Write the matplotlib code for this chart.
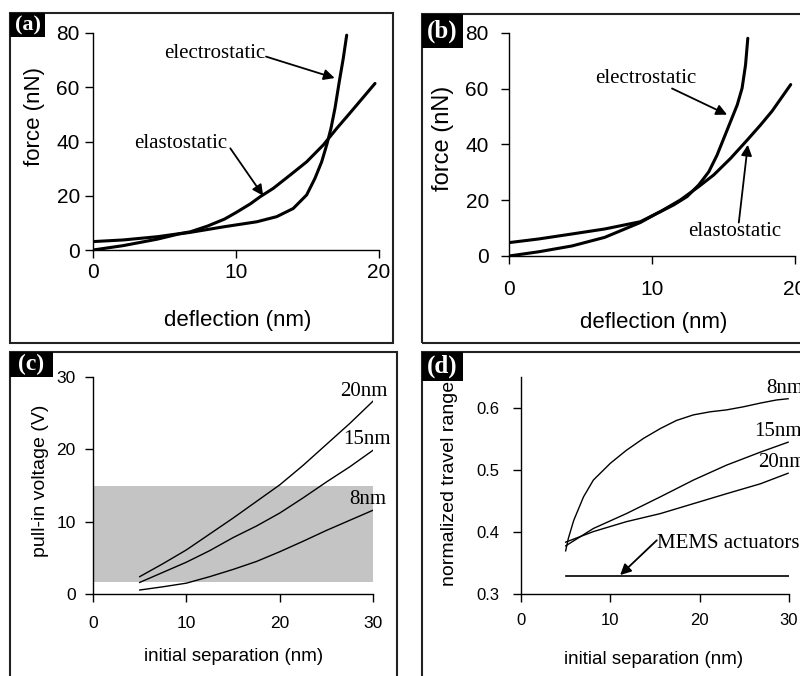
import matplotlib
matplotlib.use("Agg")
import matplotlib.pyplot as plt
from matplotlib.patches import Rectangle

SANS = "Liberation Sans"
SERIF = "Liberation Serif"
W, H = 800, 676

# --- (a) force vs deflection ---
a_elec_x = [0, 2.1, 4.5, 6.0, 6.8, 9.2, 11.45, 12.85, 14.0, 14.94, 15.52, 15.99,
            16.34, 16.64, 16.92, 17.22, 17.5, 17.74]
a_elec_y = [0, 1.6, 4.0, 5.9, 6.5, 8.6, 10.4, 12.3, 15.3, 20.3, 26.4, 32.5,
            38.7, 44.8, 52.2, 62.0, 70.6, 79.2]
a_elas_x = [0, 2.1, 4.5, 6.0, 6.8, 8.0, 9.2, 10.0, 11.0, 11.68, 12.6, 13.78, 14.94,
            16.1, 17.04, 17.97, 19.72]
a_elas_y = [3.1, 3.7, 4.9, 6.0, 6.7, 8.8, 11.4, 13.8, 17.0, 19.6, 22.7, 27.6, 32.5,
            38.7, 44.8, 50.5, 61.4]

# --- (b) force vs deflection ---
b_elec_x = [0, 2.06, 4.4, 6.7, 9.18, 10.35, 11.51, 12.45, 13.27, 13.97, 14.55,
            15.02, 15.49, 15.96, 16.3, 16.54, 16.7]
b_elec_y = [0, 1.5, 3.6, 6.7, 12.0, 15.3, 18.3, 21.3, 25.5, 30.2, 36.2,
            42.2, 48.2, 54.2, 60.2, 68.5, 78.1]
b_elas_x = [0, 2.06, 4.4, 6.7, 9.18, 10.58, 11.98, 13.27, 14.32, 15.49, 16.66,
            17.59, 18.4, 19.7]
b_elas_y = [4.8, 6.1, 7.9, 9.7, 12.3, 15.9, 20.1, 24.9, 29.1, 35.0, 41.6,
            47.0, 52.0, 61.5]

# --- (c) pull-in voltage vs initial separation ---
c_x = [5, 7.5, 10, 12.5, 15, 17.5, 20, 22.5, 25, 27.5, 30]
c_20nm = [2.4, 4.2, 6.1, 8.3, 10.5, 12.8, 15.1, 17.8, 20.7, 23.6, 26.7]
c_15nm = [1.6, 3.0, 4.4, 6.0, 7.8, 9.4, 11.2, 13.3, 15.5, 17.6, 19.9]
c_8nm = [0.55, 1.0, 1.5, 2.4, 3.4, 4.5, 5.85, 7.3, 8.8, 10.2, 11.6]
c_band = (1.7, 15.0)  # shaded voltage window

# --- (d) normalized travel range vs initial separation ---
d_8nm_x = [5.0, 5.3, 5.9, 7.0, 8.1, 10.0, 11.8, 13.7, 15.6, 17.4, 19.3, 21.2, 23.0,
           24.9, 26.8, 28.6, 29.9]
d_8nm_y = [0.370, 0.390, 0.419, 0.457, 0.484, 0.511, 0.532, 0.551, 0.567, 0.580,
           0.589, 0.594, 0.597, 0.602, 0.608, 0.613, 0.615]
d_x = [5.0, 8.1, 11.8, 15.6, 19.3, 23.0, 26.8, 29.9]
d_15nm = [0.378, 0.406, 0.430, 0.457, 0.484, 0.508, 0.529, 0.545]
d_20nm = [0.384, 0.401, 0.417, 0.430, 0.446, 0.462, 0.478, 0.495]
d_mems_x = [5, 30]
d_mems_y = [0.33, 0.33]


def ax_rect(x0, x1, y_top, y_bot):
    return [x0 / W, 1 - y_bot / H, (x1 - x0) / W, (y_bot - y_top) / H]


def fig_box(fig, x0, y0, x1, y1, **kw):
    fig.add_artist(Rectangle((x0 / W, 1 - y1 / H), (x1 - x0) / W, (y1 - y0) / H,
                             transform=fig.transFigure, **kw))


def panel_tag(fig, x0, y0, x1, y1, tag, size):
    fig_box(fig, x0, y0, x1, y1, facecolor="black", edgecolor="black", lw=0)
    fig.text((x0 + x1) / 2 / W, 1 - (y0 + y1) / 2 / H, tag, color="white",
             fontsize=size, fontweight="bold", family=SERIF,
             ha="center", va="center")


def style(ax, tick_fs, xpad, ypad):
    for side in ("top", "right"):
        ax.spines[side].set_visible(False)
    for side in ("left", "bottom"):
        ax.spines[side].set_linewidth(1.0)
    ax.tick_params(direction="out", length=5.5, width=1.0, labelsize=tick_fs)
    ax.tick_params(axis="x", pad=xpad)
    ax.tick_params(axis="y", pad=ypad)
    for lbl in ax.get_xticklabels() + ax.get_yticklabels():
        lbl.set_family(SANS)


def labels(ax, xl, yl, fs_x, fs_y, xpos, ypos):
    ax.set_xlabel(xl, fontsize=fs_x, family=SANS)
    ax.set_ylabel(yl, fontsize=fs_y, family=SANS)
    ax.xaxis.label.set_va("center")
    ax.yaxis.label.set_va("center")
    ax.xaxis.set_label_coords(*xpos)
    ax.yaxis.set_label_coords(*ypos)


def arrow(ax, head, tail):
    ax.annotate("", xy=head, xytext=tail,
                arrowprops=dict(arrowstyle="-|>", color="black", lw=1.3,
                                mutation_scale=16, shrinkA=0, shrinkB=0))


def note(ax, text, head, tail, tpos):
    arrow(ax, head, tail)
    ax.text(*tpos, text, family=SERIF, fontsize=15, ha="left", va="baseline")


thick = dict(color="black", lw=2.2, solid_joinstyle="round", solid_capstyle="round")
thin = dict(color="black", lw=1.0, solid_joinstyle="round")

fig = plt.figure(figsize=(W / 100, H / 100), dpi=100, facecolor="white")

# panel frames
frame = dict(fill=False, edgecolor="#222222", lw=1.5)
fig_box(fig, 10, 13, 393, 343, **frame)
fig_box(fig, 422, 14, 812, 343, **frame)
fig_box(fig, 10, 352, 397, 690, **frame)
fig_box(fig, 422, 352, 812, 690, **frame)

# (a)
ax = fig.add_axes(ax_rect(93, 379, 33, 250))
ax.plot(a_elec_x, a_elec_y, **thick)
ax.plot(a_elas_x, a_elas_y, **thick)
ax.set_xlim(0, 20)
ax.set_ylim(0, 80)
ax.set_xticks([0, 10, 20])
ax.set_yticks([0, 20, 40, 60, 80])
style(ax, 15, 4, 4)
labels(ax, "deflection (nm)", "force (nN)", 16, 16, (0.507, -0.323), (-0.203, 0.614))
note(ax, "electrostatic", (16.9, 63.4), (12.1, 71.3), (5.0, 70.7))
note(ax, "elastostatic", (11.9, 20.0), (9.6, 37.5), (2.9, 37.5))

# (b)
ax = fig.add_axes(ax_rect(509, 795, 33, 256))
ax.plot(b_elec_x, b_elec_y, **thick)
ax.plot(b_elas_x, b_elas_y, **thick)
ax.set_xlim(0, 20)
ax.set_ylim(0, 80)
ax.set_xticks([0, 10, 20])
ax.set_yticks([0, 20, 40, 60, 80])
style(ax, 15, 12, 9)
labels(ax, "deflection (nm)", "force (nN)", 16, 17, (0.505, -0.296), (-0.23, 0.528))
note(ax, "electrostatic", (15.25, 50.7), (11.4, 60.1), (6.0, 61.9))
note(ax, "elastostatic", (16.7, 39.9), (16.07, 12.0), (12.5, 7.2))

# (c)
ax = fig.add_axes(ax_rect(93, 373.3, 377, 594))
ax.fill_between([0, 30], c_band[0], c_band[1], color="#c4c4c4", lw=0)
for ys in (c_20nm, c_15nm, c_8nm):
    ax.plot(c_x, ys, **thin)
ax.set_xlim(0, 30)
ax.set_ylim(0, 30)
ax.set_xticks([0, 10, 20, 30])
ax.set_yticks([0, 10, 20, 30])
style(ax, 12.5, 10, 7)
labels(ax, "initial separation (nm)", "pull-in voltage (V)", 13.5, 14,
       (0.50, -0.289), (-0.189, 0.522))
for txt, x, y in (("20nm", 26.5, 28.0), ("15nm", 26.8, 21.3), ("8nm", 27.4, 13.0)):
    ax.text(x, y, txt, family=SERIF, fontsize=15, ha="left", va="center")

# (d)
ax = fig.add_axes(ax_rect(521, 789, 377, 594.3))
ax.plot(d_8nm_x, d_8nm_y, **thin)
ax.plot(d_x, d_15nm, **thin)
ax.plot(d_x, d_20nm, **thin)
ax.plot(d_mems_x, d_mems_y, color="black", lw=1.2)
ax.set_xlim(0, 30)
ax.set_ylim(0.3, 0.65)
ax.set_xticks([0, 10, 20, 30])
ax.set_yticks([0.3, 0.4, 0.5, 0.6])
ax.set_yticklabels(["0.3", "0.4", "0.5", "0.6"])
style(ax, 12, 8, 10)
labels(ax, "initial separation (nm)", "normalized travel range", 13.5, 14,
       (0.496, -0.302), (-0.265, 0.512))
for txt, x, y in (("8nm", 27.4, 0.632), ("15nm", 26.1, 0.562), ("20nm", 26.5, 0.512)):
    ax.text(x, y, txt, family=SERIF, fontsize=15, ha="left", va="center", clip_on=False)
arrow(ax, (11.1, 0.331), (15.2, 0.387))
ax.text(15.2, 0.382, "MEMS actuators", family=SERIF, fontsize=15,
        ha="left", va="center")

# panel tags
panel_tag(fig, 10, 13, 45, 37, "(a)", 16)
panel_tag(fig, 422, 14, 463, 48, "(b)", 18)
panel_tag(fig, 10, 352, 53, 377, "(c)", 17)
panel_tag(fig, 422, 352, 463, 381, "(d)", 18)

fig.savefig("out.png", dpi=100, facecolor="white")
